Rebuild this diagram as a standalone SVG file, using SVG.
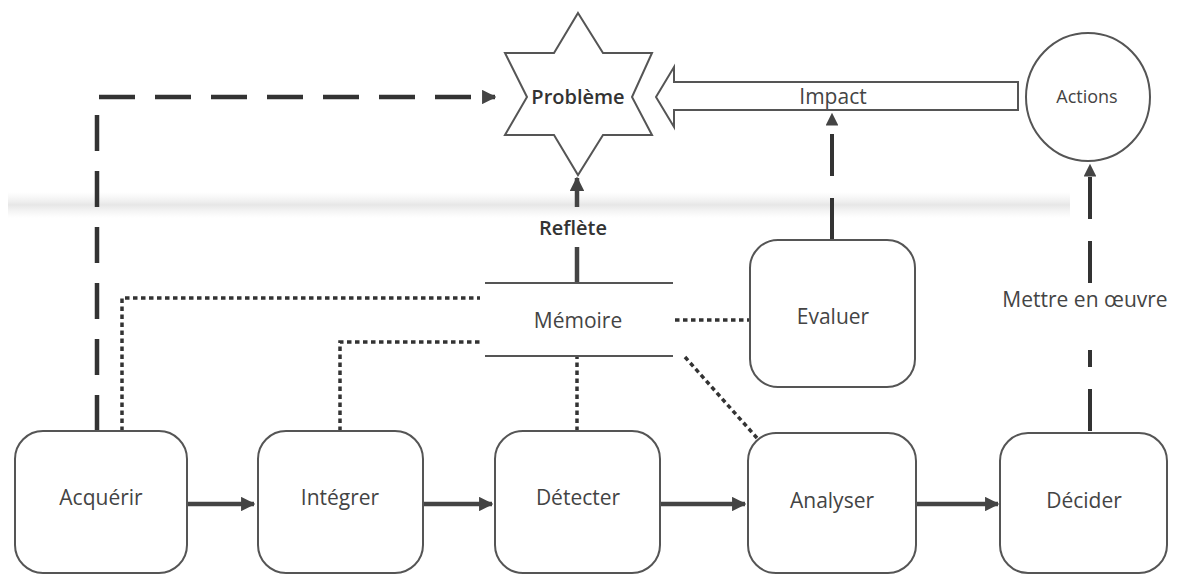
<svg xmlns="http://www.w3.org/2000/svg" width="1177" height="575" viewBox="0 0 1177 575">
  <style>
    text { font-family: "Open Sans", "DejaVu Sans", sans-serif; fill: #444; text-anchor: middle; dominant-baseline: central; }
    .lbl { font-size: 21px; }
    .bold { font-size: 20px; font-weight: 600; fill: #333; }
    .box { fill: #fff; stroke: #555; stroke-width: 2; }
    .flow { stroke: #444; stroke-width: 4.5; fill: none; }
    .dash { stroke: #333; stroke-width: 4.5; fill: none; stroke-dasharray: 36 20; }
    .dash2 { stroke: #333; stroke-width: 4; fill: none; stroke-dasharray: 42 22; }
    .dot { stroke: #333; stroke-width: 3.5; fill: none; stroke-dasharray: 4.5 3.5; }
    .thin { stroke: #555; stroke-width: 2; fill: none; }
  </style>
  <defs>
    <marker id="head" viewBox="0 0 10 10" refX="9" refY="5" markerWidth="3.2" markerHeight="3.2" orient="auto" markerUnits="strokeWidth">
      <path d="M0,0 L10,5 L0,10 Z" fill="#444"/>
    </marker>
    <linearGradient id="band" x1="0" y1="0" x2="0" y2="1">
      <stop offset="0" stop-color="#e8e8e8" stop-opacity="0"/>
      <stop offset="0.5" stop-color="#dcdcdc" stop-opacity="0.7"/>
      <stop offset="1" stop-color="#e8e8e8" stop-opacity="0"/>
    </linearGradient>
  </defs>

  <rect width="1177" height="575" fill="#fff"/>
  <!-- faint horizontal band across the upper area -->
  <rect x="8" y="192" width="1062" height="26" fill="url(#band)"/>

  <g id="connectors">
    <!-- main process flow -->
    <line class="flow" x1="188" y1="504" x2="254" y2="504" marker-end="url(#head)"/>
    <line class="flow" x1="423" y1="504" x2="492" y2="504" marker-end="url(#head)"/>
    <line class="flow" x1="661" y1="504" x2="745" y2="504" marker-end="url(#head)"/>
    <line class="flow" x1="917" y1="504" x2="998" y2="504" marker-end="url(#head)"/>

    <!-- Acquérir to Problème -->
    <path class="dash" d="M97,431 L97,97 L495,97" marker-end="url(#head)"/>

    <!-- Mémoire links -->
    <path class="dot" d="M122,431 L122,298 L480,298"/>
    <path class="dot" d="M340,431 L340,342 L480,342"/>
    <path class="dot" d="M577,431 L577,357"/>
    <path class="dot" d="M675,320 L750,320"/>
    <path class="dot" d="M685,357 L757,438"/>

    <!-- Mémoire reflects Problème -->
    <line class="flow" x1="577" y1="283" x2="577" y2="247"/>
    <line class="flow" x1="577" y1="207" x2="577" y2="178" marker-end="url(#head)"/>

    <!-- Evaluer to Impact -->
    <path class="dash2" d="M832,240 L832,114" marker-end="url(#head)"/>

    <!-- Décider to Actions -->
    <path class="dash2" d="M1090,431 L1090,350"/>
    <path class="dash2" d="M1090,283 L1090,165" marker-end="url(#head)"/>
  </g>

  <g id="impact">
    <path d="M1018,82 L674,82 L674,67 L656,97 L674,127 L674,110 L1018,110 Z" fill="#fff" stroke="#555" stroke-width="2"/>
    <text class="lbl" x="833" y="96">Impact</text>
  </g>

  <g id="probleme">
    <path d="M578,13 L603,53 L652,53 L632,97 L652,135 L603,135 L578,175 L554,135 L505,135 L527,97 L505,53 L554,53 Z" fill="#fff" stroke="#555" stroke-width="2"/>
    <text class="bold" x="578" y="96">Problème</text>
  </g>

  <g id="actions">
    <ellipse cx="1088" cy="97" rx="62" ry="64" fill="#fff" stroke="#555" stroke-width="2"/>
    <text class="lbl" x="1087" y="96" style="font-size:18px">Actions</text>
  </g>

  <g id="reflete">
    <text class="bold" x="573" y="227">Reflète</text>
  </g>

  <g id="memoire">
    <line class="thin" x1="485" y1="283" x2="673" y2="283"/>
    <line class="thin" x1="485" y1="356" x2="673" y2="356"/>
    <text class="lbl" x="578" y="320">Mémoire</text>
  </g>

  <g id="mettre">
    <text class="lbl" x="1085" y="299">Mettre en œuvre</text>
  </g>

  <g id="evaluer">
    <rect class="box" x="750" y="240" width="165" height="147" rx="28"/>
    <text class="lbl" x="833" y="316">Evaluer</text>
  </g>

  <g id="acquerir">
    <rect class="box" x="15" y="431" width="172" height="142" rx="28"/>
    <text class="lbl" x="101" y="497">Acquérir</text>
  </g>

  <g id="integrer">
    <rect class="box" x="258" y="431" width="165" height="142" rx="28"/>
    <text class="lbl" x="340" y="497">Intégrer</text>
  </g>

  <g id="detecter">
    <rect class="box" x="495" y="431" width="165" height="142" rx="28"/>
    <text class="lbl" x="578" y="497">Détecter</text>
  </g>

  <g id="analyser">
    <rect class="box" x="748" y="433" width="168" height="140" rx="28"/>
    <text class="lbl" x="832" y="500">Analyser</text>
  </g>

  <g id="decider">
    <rect class="box" x="1000" y="433" width="167" height="140" rx="28"/>
    <text class="lbl" x="1084" y="500">Décider</text>
  </g>
</svg>
